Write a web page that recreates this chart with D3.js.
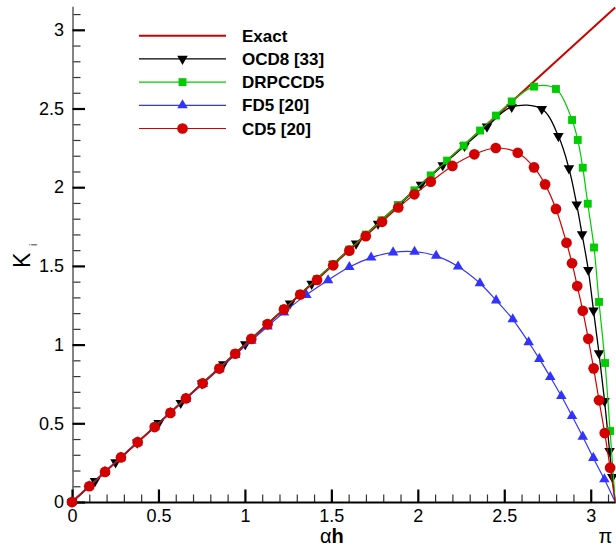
<!DOCTYPE html>
<html>
<head>
<meta charset="utf-8">
<title>Modified wavenumber</title>
<script src="https://cdn.jsdelivr.net/npm/d3@7"></script>
<style>
  body { margin: 0; background: #fff; }
  text { font-family: Arial, "Liberation Sans", sans-serif; }
</style>
</head>
<body>
<div id="chart"></div>
<script>
// tick values
var xMajor = [0, 0.5, 1, 1.5, 2, 2.5, 3];
var yMajor = [0, 0.5, 1, 1.5, 2, 2.5, 3];

// series (marker positions); every curve but Exact ends at (pi, 0)
var exactX = [0, Math.PI];
var exactY = [0, Math.PI];

var ocd8X = [0, 0.133, 0.252, 0.377, 0.501, 0.629, 0.752, 0.875, 1.002, 1.131, 1.261, 1.386, 1.512, 1.643, 1.770, 1.892, 2.018, 2.144, 2.270, 2.400, 2.543, 2.717, 2.813, 2.874, 2.919, 2.950, 2.986, 3.016, 3.048, 3.080, 3.109, 3.125];
var ocd8Y = [0, 0.133, 0.252, 0.377, 0.501, 0.629, 0.752, 0.875, 1.002, 1.131, 1.261, 1.386, 1.512, 1.642, 1.768, 1.890, 2.016, 2.140, 2.262, 2.385, 2.510, 2.497, 2.325, 2.120, 1.890, 1.701, 1.474, 1.217, 0.945, 0.642, 0.324, 0.159];

var drpX = [0, 0.100, 0.191, 0.283, 0.380, 0.478, 0.569, 0.659, 0.756, 0.852, 0.944, 1.037, 1.131, 1.226, 1.320, 1.417, 1.511, 1.604, 1.699, 1.790, 1.884, 1.980, 2.075, 2.169, 2.265, 2.360, 2.452, 2.543, 2.672, 2.799, 2.892, 2.925, 2.954, 2.983, 3.019, 3.048, 3.083, 3.112];
var drpY = [0, 0.100, 0.191, 0.283, 0.380, 0.478, 0.569, 0.659, 0.756, 0.852, 0.944, 1.037, 1.131, 1.226, 1.320, 1.417, 1.511, 1.604, 1.699, 1.790, 1.884, 1.980, 2.075, 2.169, 2.265, 2.360, 2.455, 2.545, 2.639, 2.624, 2.427, 2.300, 2.124, 1.895, 1.617, 1.271, 0.883, 0.451];

var fd5X = [0, 0.100, 0.191, 0.283, 0.380, 0.478, 0.569, 0.659, 0.756, 0.852, 0.944, 1.037, 1.131, 1.226, 1.355, 1.481, 1.604, 1.730, 1.857, 1.981, 2.106, 2.233, 2.359, 2.453, 2.549, 2.641, 2.703, 2.766, 2.830, 2.892, 2.954, 3.015, 3.079];
var fd5Y = [0, 0.100, 0.191, 0.283, 0.379, 0.476, 0.566, 0.655, 0.750, 0.844, 0.934, 1.025, 1.115, 1.205, 1.316, 1.409, 1.493, 1.553, 1.586, 1.590, 1.564, 1.496, 1.390, 1.281, 1.161, 1.015, 0.909, 0.794, 0.673, 0.546, 0.415, 0.280, 0.144];

var cd5X = [0, 0.100, 0.191, 0.283, 0.380, 0.478, 0.569, 0.659, 0.756, 0.852, 0.944, 1.037, 1.131, 1.226, 1.320, 1.417, 1.511, 1.604, 1.699, 1.793, 1.887, 1.980, 2.075, 2.200, 2.327, 2.451, 2.578, 2.672, 2.736, 2.799, 2.860, 2.892, 2.922, 2.954, 2.986, 3.017, 3.048, 3.081, 3.112];
var cd5Y = [0, 0.100, 0.191, 0.283, 0.380, 0.476, 0.566, 0.658, 0.754, 0.848, 0.942, 1.036, 1.130, 1.224, 1.318, 1.411, 1.504, 1.597, 1.689, 1.780, 1.871, 1.955, 2.035, 2.135, 2.209, 2.249, 2.219, 2.126, 2.018, 1.862, 1.647, 1.517, 1.372, 1.215, 1.037, 0.849, 0.646, 0.438, 0.218];

var W = 616, H = 551;

var svg = d3.select("#chart")
    .append("svg")
    .attr("width", W)
    .attr("height", H);

var x = d3.scaleLinear().domain([0, Math.PI]).range([72, 615.2]);
var y = d3.scaleLinear().domain([0, 3.15]).range([502, 6.2]);

var xMinor = d3.range(0.1, 3.15, 0.1).filter(function (v) { return Math.abs(v * 2 - Math.round(v * 2)) > 1e-6; });
var yMinor = d3.range(0.1, 3.15, 0.1).filter(function (v) { return Math.abs(v * 2 - Math.round(v * 2)) > 1e-6; });

// minor ticks
svg.append("g")
    .attr("transform", "translate(0,502)")
    .call(d3.axisBottom(x).tickValues(xMinor).tickSize(-7.5).tickSizeOuter(0).tickFormat(""))
    .call(function (g) { g.select(".domain").remove(); })
    .selectAll("line").attr("stroke", "#333").attr("stroke-width", 1.2);

svg.append("g")
    .attr("transform", "translate(72.5,0)")
    .call(d3.axisLeft(y).tickValues(yMinor).tickSize(-8).tickSizeOuter(0).tickFormat(""))
    .call(function (g) { g.select(".domain").remove(); })
    .selectAll("line").attr("stroke", "#333").attr("stroke-width", 1.2);

// y axis
var gy = svg.append("g")
    .attr("transform", "translate(72.5,0)")
    .call(d3.axisLeft(y).tickValues(yMajor).tickSize(-12.5).tickSizeOuter(0).tickPadding(8.5).tickFormat(d3.format("")));
gy.select(".domain").attr("stroke", "#666").attr("stroke-width", 1.6);
gy.selectAll(".tick line").attr("stroke", "#000").attr("stroke-width", 2.2);
gy.selectAll(".tick text").style("font-size", "18px").attr("fill", "#000");

// x axis
var gx = svg.append("g")
    .attr("transform", "translate(0,502)")
    .call(d3.axisBottom(x).tickValues(xMajor).tickSize(-12.5).tickSizeOuter(0).tickPadding(7).tickFormat(d3.format("")));
gx.select(".domain").attr("stroke", "#000").attr("stroke-width", 2.2);
gx.selectAll(".tick line").attr("stroke", "#000").attr("stroke-width", 2.2);
gx.selectAll(".tick text").style("font-size", "18px").attr("fill", "#000");

// axis titles
var xt = svg.append("text").attr("x", 320).attr("y", 543).style("font-size", "20px");
xt.append("tspan").text("α");
xt.append("tspan").style("font-weight", "bold").text("h");

svg.append("text")
    .attr("x", 605.5).attr("y", 543)
    .attr("text-anchor", "middle")
    .style("font-size", "20px")
    .text("π");

svg.append("text")
    .attr("transform", "translate(30,268) rotate(-90)")
    .style("font-size", "23px")
    .text("K");
svg.append("text")
    .attr("transform", "translate(37,246) rotate(-90)")
    .style("font-size", "10px")
    .text("i");

// series
var series = [
    { name: "Exact", xs: exactX, ys: exactY, color: "#cc0000", width: 2, symbol: null, toEnd: false },
    { name: "OCD8 [33]", xs: ocd8X, ys: ocd8Y, color: "#000000", width: 1.3, symbol: d3.symbolTriangle, size: 48, rotate: 180, toEnd: true },
    { name: "DRPCCD5", xs: drpX, ys: drpY, color: "#00cc00", width: 1.2, symbol: d3.symbolSquare, size: 62, rotate: 0, toEnd: true },
    { name: "FD5 [20]", xs: fd5X, ys: fd5Y, color: "#3333ff", width: 1.2, symbol: d3.symbolTriangle, size: 48, rotate: 0, toEnd: true },
    { name: "CD5 [20]", xs: cd5X, ys: cd5Y, color: "#d40000", width: 1.2, symbol: d3.symbolCircle, size: 90, rotate: 0, toEnd: true }
];

var line = d3.line()
    .x(function (d) { return x(d[0]); })
    .y(function (d) { return y(d[1]); })
    .curve(d3.curveCatmullRom.alpha(0.5));

series.forEach(function (s) {
    var pts = s.xs.map(function (v, i) { return [v, s.ys[i]]; });
    var linePts = s.toEnd ? pts.concat([[Math.PI, 0]]) : pts;
    svg.append("path")
        .datum(linePts)
        .attr("fill", "none")
        .attr("stroke", s.color)
        .attr("stroke-width", s.width)
        .attr("d", line);
    if (s.symbol) {
        svg.append("g")
            .selectAll("path")
            .data(pts)
            .enter()
            .append("path")
            .attr("transform", function (d) { return "translate(" + x(d[0]) + "," + y(d[1]) + ") rotate(" + s.rotate + ")"; })
            .attr("d", d3.symbol().type(s.symbol).size(s.size))
            .attr("fill", s.color);
    }
});

// legend
var lg = svg.append("g");
series.forEach(function (s, i) {
    var ry = 35.7 + i * 23.2;
    lg.append("line")
        .attr("x1", 139).attr("x2", 226)
        .attr("y1", ry).attr("y2", ry)
        .attr("stroke", s.color)
        .attr("stroke-width", s.width);
    if (s.symbol) {
        lg.append("path")
            .attr("transform", "translate(182.5," + ry + ") rotate(" + s.rotate + ")")
            .attr("d", d3.symbol().type(s.symbol).size(s.size))
            .attr("fill", s.color);
    }
    lg.append("text")
        .attr("x", 242).attr("y", ry)
        .attr("dy", "0.36em")
        .style("font-size", "17px")
        .style("font-weight", "bold")
        .text(s.name);
});
</script>
</body>
</html>
